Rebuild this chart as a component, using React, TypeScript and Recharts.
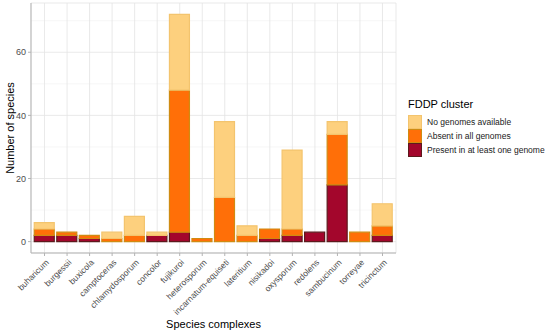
import { BarChart, Bar, XAxis, YAxis, CartesianGrid, Legend, Label } from "recharts";

const COMPLEXES = [
  "buharicum", "burgessii", "buxicola", "camptoceras", "chlamydosporum", "concolor", "fujikuroi", "heterosporum",
  "incarnatum-equiseti", "lateritium", "nisikadoi", "oxysporum", "redolens", "sambucinum", "torreyae", "tricinctum",
];
const PRESENT = [2, 2, 1, 0, 0, 2, 3, 0, 0, 0, 1, 2, 3, 18, 0, 2];
const ABSENT = [2, 1, 1, 1, 2, 0, 45, 1, 14, 2, 3, 2, 0, 16, 3, 3];
const NO_GENOMES = [2, 0, 0, 2, 6, 1, 24, 0, 24, 3, 0, 25, 0, 4, 0, 7];

const Y_TICKS = [0, 20, 40, 60];
const Y_MINOR = [10, 30, 50, 70];

// stacking order bottom -> top
const SERIES = [
  { key: "present", name: "Present in at least one genome", fill: "#a3062c", stroke: "#5c1a1c" },
  { key: "absent", name: "Absent in all genomes", fill: "#ff6f08", stroke: "#cf8b12" },
  { key: "none", name: "No genomes available", fill: "#fdd07e", stroke: "#f3c46e" },
];

const data = COMPLEXES.map((name, i) => ({
  name,
  present: PRESENT[i],
  absent: ABSENT[i],
  none: NO_GENOMES[i],
}));

const FONT = "'Liberation Sans', Arial, sans-serif";
const GREY = "#b3b3b3";

function XTick({ x, y, payload }: any) {
  return (
    <g transform={`translate(${x},${y}) rotate(-45)`}>
      <text x={0} y={0} dy={7} textAnchor="end" fontSize={8.5} fill="#4d4d4d" fontFamily={FONT}>
        {payload.value}
      </text>
    </g>
  );
}

function LegendBox() {
  const items = [...SERIES].reverse();
  return (
    <div style={{ fontFamily: FONT }}>
      <div style={{ fontSize: 11, color: "#000", marginBottom: 5 }}>FDDP cluster</div>
      {items.map((s) => (
        <div key={s.key} style={{ display: "flex", alignItems: "center", height: 14 }}>
          <span
            style={{
              width: 12,
              height: 12,
              background: s.fill,
              border: `1px solid ${s.stroke}`,
              display: "inline-block",
            }}
          />
          <span style={{ marginLeft: 5, fontSize: 8.5, color: "#1a1a1a" }}>{s.name}</span>
        </div>
      ))}
    </div>
  );
}

export default function App() {
  return (
    <div style={{ position: "absolute", left: 0, top: 0, background: "#fff" }}>
      <BarChart width={550} height={333} data={data} margin={{ top: 3, right: 154, bottom: 0, left: 0 }}>
        <CartesianGrid stroke="#efefef" strokeWidth={0.5} vertical={false} horizontalValues={Y_MINOR} />
        <CartesianGrid stroke="#e3e3e3" strokeWidth={0.8} />
        <XAxis
          dataKey="name"
          interval={0}
          height={80}
          tick={<XTick />}
          tickSize={3}
          tickMargin={2}
          tickLine={{ stroke: GREY }}
          axisLine={{ stroke: GREY }}
          padding={{ left: 2.25, right: 2.25 }}
        >
          <Label value="Species complexes" position="insideBottom" offset={5} fontSize={11} fill="#000" fontFamily={FONT} />
        </XAxis>
        <XAxis xAxisId="top" dataKey="name" orientation="top" height={0} tick={false} tickLine={false} axisLine={{ stroke: GREY }} />
        <YAxis
          width={31}
          domain={[-3.6, 75.6]}
          ticks={Y_TICKS}
          allowDataOverflow
          tickSize={3}
          tickMargin={2}
          tick={{ fontSize: 9, fill: "#4d4d4d", fontFamily: FONT }}
          tickLine={{ stroke: GREY }}
          axisLine={{ stroke: GREY }}
        >
          <Label value="Number of species" angle={-90} position="center" dx={-5} fontSize={11} fill="#000" fontFamily={FONT} />
        </YAxis>
        <YAxis yAxisId="right" orientation="right" width={0} tick={false} tickLine={false} axisLine={{ stroke: GREY }} />
        <Legend
          layout="vertical"
          align="center"
          verticalAlign="middle"
          content={<LegendBox />}
          wrapperStyle={{ left: 408, top: 98, width: 142 }}
        />
        {SERIES.map((s) => (
          <Bar
            key={s.key}
            dataKey={s.key}
            name={s.name}
            stackId="a"
            fill={s.fill}
            stroke={s.stroke}
            strokeWidth={1.2}
            barSize={20}
            isAnimationActive={false}
          />
        ))}
      </BarChart>
    </div>
  );
}
